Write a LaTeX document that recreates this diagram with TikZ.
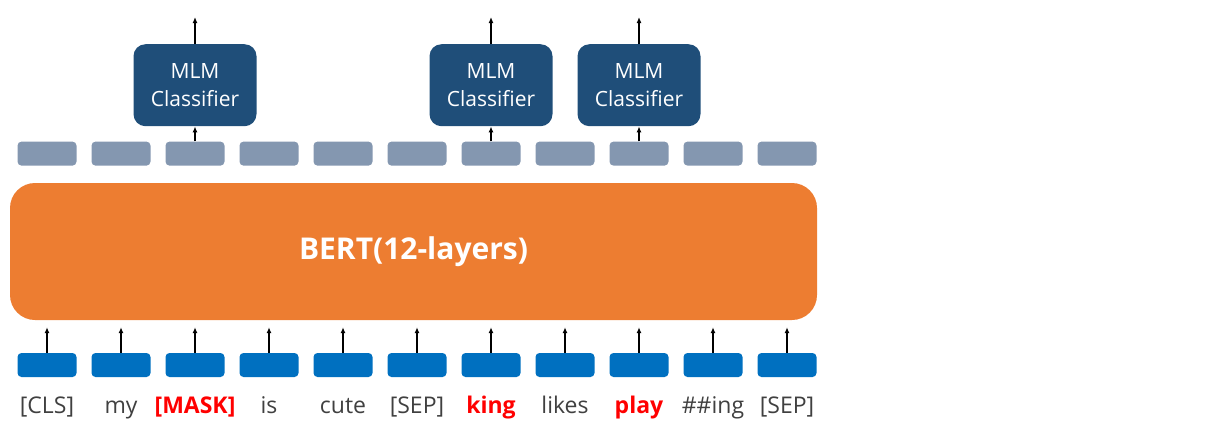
\documentclass[tikz,border=0pt]{standalone}
\usepackage{fontspec}
\setmainfont{Open Sans}
\usepackage{xcolor}
\usepackage{tikz}
\usetikzlibrary{positioning, arrows.meta}

\definecolor{tokblue}{HTML}{0070C0}
\definecolor{outgray}{HTML}{8497B0}
\definecolor{mlmblue}{HTML}{1F4E79}
\definecolor{bertorange}{HTML}{ED7D31}
\definecolor{wordgray}{HTML}{404040}
\definecolor{maskred}{HTML}{FF0000}

\begin{document}
\begin{tikzpicture}[x=1pt, y=1pt, >={Latex[length=6pt,width=5pt]}]
        \tikzstyle{token} = [rectangle, rounded corners=4pt, minimum width=59pt, minimum height=24pt, inner sep=0pt, fill=tokblue]
        \tikzstyle{outvec} = [token, fill=outgray]
        \tikzstyle{mlm} = [rectangle, rounded corners=12pt, minimum width=123pt, minimum height=82pt, align=center, text=white, fill=mlmblue, font=\fontsize{21}{28}\selectfont]
        \tikzstyle{bert} = [rectangle, rounded corners=25pt, minimum width=807pt, minimum height=137pt, text=white, fill=bertorange, font=\fontsize{30}{34}\selectfont\bfseries]
        \tikzstyle{word} = [inner sep=0pt, anchor=base, text=wordgray, font=\fontsize{23}{26}\selectfont]
        \tikzstyle{masked} = [word, text=maskred, font=\fontsize{23}{26}\selectfont\bfseries]
        \tikzstyle{arrow} = [line width=1.4pt, ->]

        % Canvas
        \useasboundingbox (0,0) rectangle (1226,-440);

        % BERT encoder
        \node (bert) [bert] at (413.5,-251.5) {BERT(12-layers)};

        % Input tokens and words
        \foreach \i/\w/\s in {1/{[CLS]}/word, 2/my/word, 3/{[MASK]}/masked, 4/is/word, 5/cute/word, 6/{[SEP]}/word, 7/king/masked, 8/likes/word, 9/play/masked, 10/{\#\#ing}/word, 11/{[SEP]}/word} {
            \node (tok\i) [token] at ({47+74*(\i-1)},-365) {};
            \node (word\i) [\s] at ({47+74*(\i-1)},-413) {\w};
            \node (out\i) [outvec, above=187pt of tok\i] {};
            \draw [arrow, shorten >=7pt] (tok\i.north) -- (bert.south -| tok\i);
        }

        % MLM heads on the masked positions
        \foreach \i in {3,7,9} {
            \node (mlm\i) [mlm, above=15pt of out\i] {MLM\\Classifier};
            \coordinate (top\i) at ([yshift=27pt]mlm\i.north);
            \draw [arrow] (out\i) -- (mlm\i);
            \draw [arrow] (mlm\i) -- (top\i);
        }
    \end{tikzpicture}
\end{document}
